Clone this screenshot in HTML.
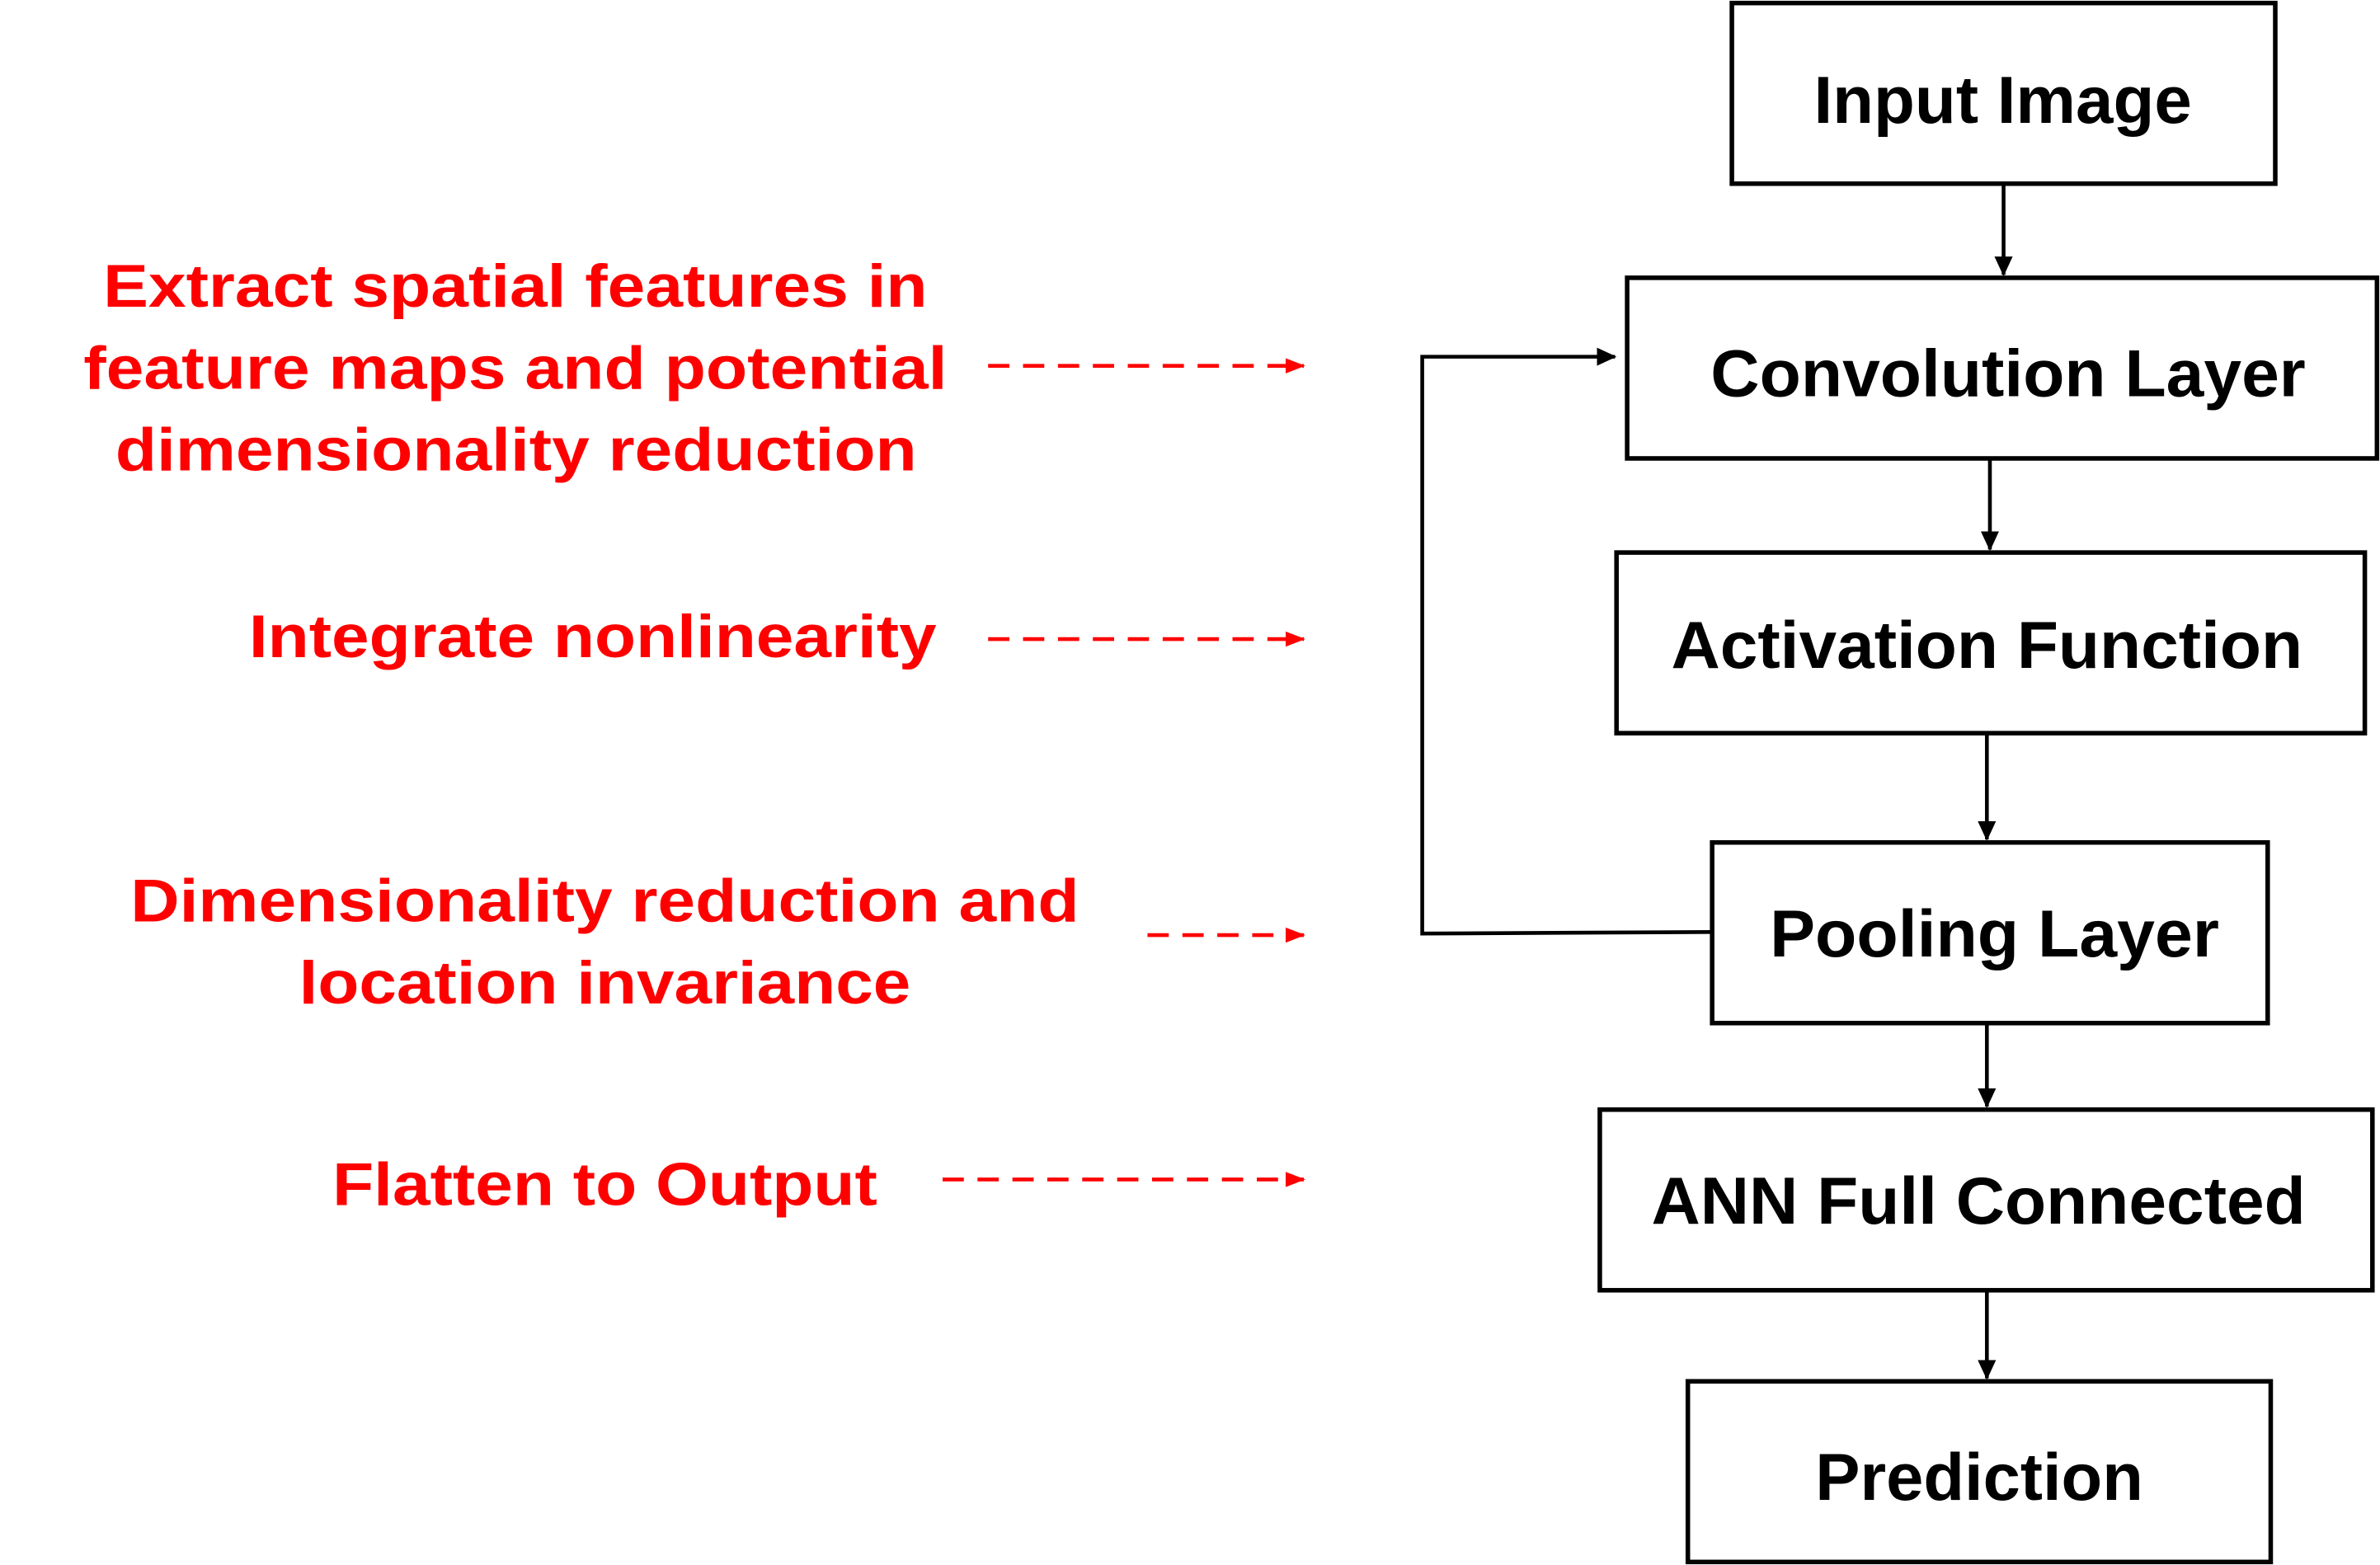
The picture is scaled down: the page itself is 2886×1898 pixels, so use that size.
<!DOCTYPE html>
<html><head><meta charset="utf-8"><style>
html,body{margin:0;padding:0;background:#fff;}
svg{display:block;}
text{font-family:"Liberation Sans",Arial,sans-serif;font-weight:bold;}
.b{fill:#000;font-size:44px;}
.r{fill:#f00;font-size:40px;}
</style></head><body>
<svg width="2886" height="1898" viewBox="0 0 1568 1031" preserveAspectRatio="none" xmlns="http://www.w3.org/2000/svg">
<defs>
<marker id="ak" markerWidth="13" markerHeight="12" refX="12" refY="6" orient="auto" markerUnits="userSpaceOnUse"><path d="M0,0 L13,6 L0,12 z" fill="#000"/></marker>
<marker id="ar" markerWidth="13" markerHeight="12" refX="12" refY="6" orient="auto" markerUnits="userSpaceOnUse"><path d="M0,1 L13,6 L0,11 z" fill="#f00"/></marker>
</defs>
<g fill="none" stroke="#000" stroke-width="3">
<rect x="1141" y="2" width="358" height="119"/>
<rect x="1072" y="183" width="494" height="119"/>
<rect x="1065" y="364" width="493" height="119"/>
<rect x="1128" y="555" width="366" height="119"/>
<rect x="1054" y="731" width="509" height="119"/>
<rect x="1112" y="910" width="384" height="119"/>
</g>
<g stroke="#000" stroke-width="2.5" fill="none">
<line x1="1320" y1="121" x2="1320" y2="181" marker-end="url(#ak)"/>
<line x1="1311" y1="302" x2="1311" y2="362" marker-end="url(#ak)"/>
<line x1="1309" y1="483" x2="1309" y2="553" marker-end="url(#ak)"/>
<line x1="1309" y1="674" x2="1309" y2="729" marker-end="url(#ak)"/>
<line x1="1309" y1="850" x2="1309" y2="908" marker-end="url(#ak)"/>
<polyline points="1128,614 937,615 937,235 1064,235" marker-end="url(#ak)"/>
</g>
<g stroke="#f00" stroke-width="2.5" stroke-dasharray="14,9" fill="none">
<line x1="651" y1="241" x2="859" y2="241" marker-end="url(#ar)"/>
<line x1="651" y1="421" x2="859" y2="421" marker-end="url(#ar)"/>
<line x1="756" y1="616" x2="859" y2="616" marker-end="url(#ar)"/>
<line x1="621" y1="777" x2="859" y2="777" marker-end="url(#ar)"/>
</g>
<text class="b" x="1195" y="81" textLength="249" lengthAdjust="spacingAndGlyphs">Input Image</text>
<text class="b" x="1127" y="261" textLength="392" lengthAdjust="spacingAndGlyphs">Convolution Layer</text>
<text class="b" x="1101" y="440" textLength="416" lengthAdjust="spacingAndGlyphs">Activation Function</text>
<text class="b" x="1166" y="630" textLength="296" lengthAdjust="spacingAndGlyphs">Pooling Layer</text>
<text class="b" x="1088" y="806" textLength="431" lengthAdjust="spacingAndGlyphs">ANN Full Connected</text>
<text class="b" x="1196" y="988" textLength="216" lengthAdjust="spacingAndGlyphs">Prediction</text>
<text class="r" x="68" y="202" textLength="543" lengthAdjust="spacingAndGlyphs">Extract spatial features in</text>
<text class="r" x="55" y="256" textLength="569" lengthAdjust="spacingAndGlyphs">feature maps and potential</text>
<text class="r" x="76" y="310" textLength="528" lengthAdjust="spacingAndGlyphs">dimensionality reduction</text>
<text class="r" x="164" y="433" textLength="453" lengthAdjust="spacingAndGlyphs">Integrate nonlinearity</text>
<text class="r" x="86" y="607" textLength="625" lengthAdjust="spacingAndGlyphs">Dimensionality reduction and</text>
<text class="r" x="197" y="661" textLength="403" lengthAdjust="spacingAndGlyphs">location invariance</text>
<text class="r" x="219" y="794" textLength="359" lengthAdjust="spacingAndGlyphs">Flatten to Output</text>
</svg>
</body></html>
